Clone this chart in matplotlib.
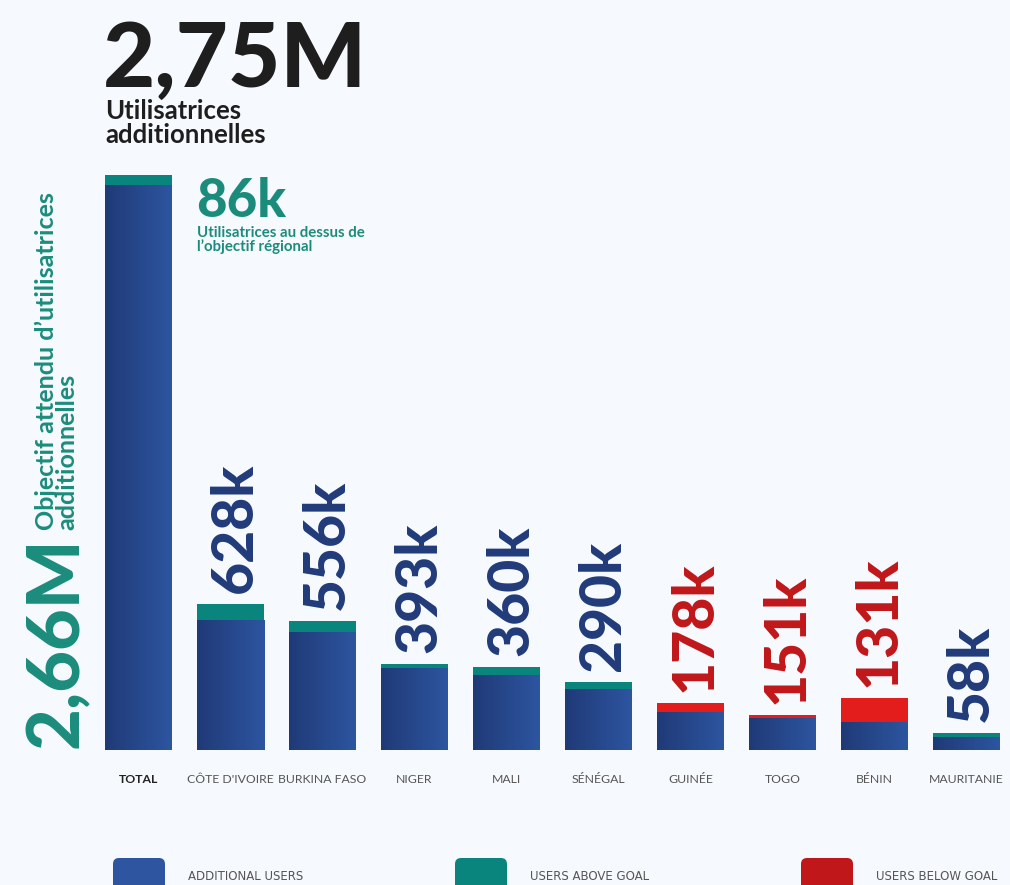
import matplotlib
matplotlib.use("Agg")
import matplotlib.pyplot as plt
import numpy as np
from matplotlib.colors import LinearSegmentedColormap
from matplotlib.patches import FancyBboxPatch

# ---------------- data (thousands of users) ----------------
categories = ["TOTAL", "CÔTE D'IVOIRE", "BURKINA FASO", "NIGER", "MALI",
              "SÉNÉGAL", "GUINÉE", "TOGO", "BÉNIN", "MAURITANIE"]
additional_users = [2435, 560, 509, 353, 323, 263, 164, 138, 121, 56]
users_above_goal = [43, 69, 47, 17, 34, 30, 0, 0, 0, 17]
users_below_goal = [0, 0, 0, 0, 0, 0, 39, 13, 103, 0]
value_labels = ["", "628k", "556k", "393k", "360k", "290k", "178k", "151k", "131k", "58k"]
label_is_below = [False, False, False, False, False, False, True, True, True, False]
legend_labels = ["ADDITIONAL USERS", "USERS ABOVE GOAL", "USERS BELOW GOAL"]

# ---------------- style ----------------
BG = "#f6f9fe"
BLUE_L, BLUE_R = "#203a77", "#2d55a0"
TEAL = "#0a857e"
RED = "#e31c1c"
TXT_BLUE = "#213b7a"
TXT_RED = "#c0171a"
TXT_TEAL = "#1b8c7c"
HEAVY = ["Lato", "Inter", "DejaVu Sans"]

W, H = 1010, 885
fig = plt.figure(figsize=(W / 100, H / 100), dpi=100, facecolor=BG)

base_px = 750
ax = fig.add_axes([0, (H - base_px) / H, 1, base_px / H])
ax.set_facecolor(BG)
px_per_k = 0.232
bar_w = 67 / 92
x = np.arange(len(categories))

cmap = LinearSegmentedColormap.from_list("g", [BLUE_L, BLUE_R])
grad = np.linspace(0, 1, 256).reshape(1, -1)

blue = ax.bar(x, additional_users, width=bar_w, color=BLUE_R, zorder=2, linewidth=0)
ax.bar(x, users_above_goal, width=bar_w, bottom=additional_users, color=TEAL, zorder=2, linewidth=0)
ax.bar(x, users_below_goal, width=bar_w, bottom=additional_users, color=RED, zorder=2, linewidth=0)

for rect in blue:
    x0, y0 = rect.get_x(), rect.get_y()
    im = ax.imshow(grad, extent=[x0, x0 + rect.get_width(), y0, y0 + rect.get_height()],
                   aspect="auto", cmap=cmap, zorder=2.5, interpolation="bilinear")
    im.set_clip_path(rect)

for i, lab in enumerate(value_labels):
    if not lab:
        continue
    top = additional_users[i] + users_above_goal[i] + users_below_goal[i]
    ax.annotate(lab, (x[i], top), xytext=(0, 8), textcoords="offset points",
                rotation=90, rotation_mode="anchor", ha="left", va="center_baseline",
                fontsize=41, fontweight="black", family=HEAVY,
                color=TXT_RED if label_is_below[i] else TXT_BLUE)

ax.set_xlim(-138.5 / 92, (W - 138.5) / 92)
ax.set_ylim(0, base_px / px_per_k)
ax.set_xticks(x)
ax.set_xticklabels(categories, fontsize=8.8, color="#555555", family=["Lato", "DejaVu Sans"])
ax.tick_params(axis="x", length=0, pad=17)
ax.tick_params(axis="y", left=False, labelleft=False)
tl = ax.get_xticklabels()
tl[0].set_fontweight("bold")
tl[0].set_color("#222222")
for s in ax.spines.values():
    s.set_visible(False)

# ---------------- headline texts ----------------
def fy(py):
    return (H - py) / H

def fx(px):
    return px / W

fig.text(fx(103), fy(87), "2,75M", fontsize=65, fontweight="black", family=HEAVY,
         color="#1e1e1e", ha="left", va="baseline")
fig.text(fx(105), fy(99), "Utilisatrices\nadditionnelles", fontsize=18.5, fontweight="bold",
         family=HEAVY, color="#1e1e1e", ha="left", va="top", linespacing=1.0)
fig.text(fx(196), fy(217), "86k", fontsize=38, fontweight="black", family=HEAVY,
         color=TXT_TEAL, ha="left", va="baseline")
fig.text(fx(197), fy(226), "Utilisatrices au dessus de\nl\u2019objectif régional", fontsize=10.8,
         fontweight="bold", family=HEAVY, color=TXT_TEAL, ha="left", va="top", linespacing=0.95)

fig.text(fx(57), fy(748), "2,66M", fontsize=52, fontweight="black", family=HEAVY,
         color=TXT_TEAL, rotation=90, rotation_mode="anchor", ha="left", va="center")
fig.text(fx(35), fy(530), "Objectif attendu d\u2019utilisatrices\nadditionnelles", fontsize=18,
         fontweight="bold", family=HEAVY, color=TXT_TEAL, rotation=90,
         rotation_mode="anchor", ha="left", va="top", linespacing=0.85)

# ---------------- legend ----------------
leg_colors = [BLUE_R, TEAL, "#c0171a"]
leg_x = [113, 455, 801]
for c, lx, lab in zip(leg_colors, leg_x, legend_labels):
    p = FancyBboxPatch(((lx) / 100, (H - 898) / 100), 52 / 100, 40 / 100,
                       boxstyle="round,pad=0,rounding_size=0.06",
                       transform=fig.dpi_scale_trans, facecolor=c, edgecolor="none")
    fig.patches.append(p)
    fig.text(fx(lx + 75), fy(877), lab, fontsize=8.5, color="#555555",
             family=["Liberation Sans Narrow", "DejaVu Sans"], ha="left", va="center")

fig.savefig("out.png", dpi=100, facecolor=BG)
